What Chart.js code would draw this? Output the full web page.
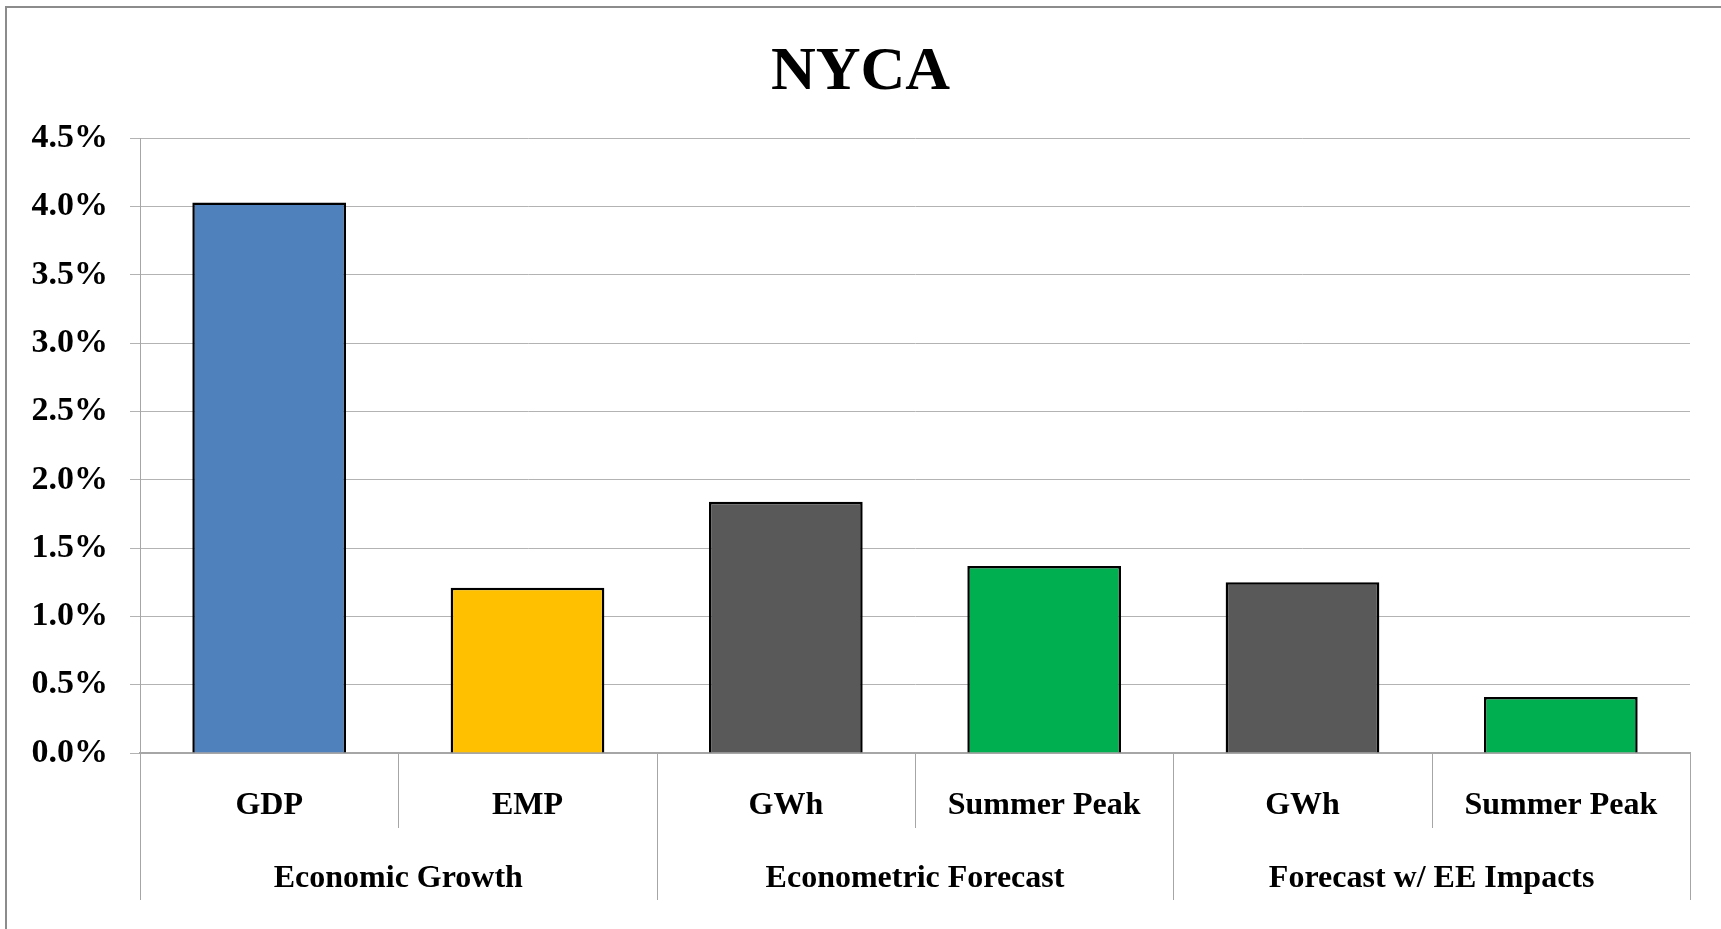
<!DOCTYPE html>
<html>
<head>
<meta charset="utf-8">
<script src="https://cdn.jsdelivr.net/npm/chart.js@4.4.1/dist/chart.umd.min.js"></script>
<style>
  html, body { margin: 0; padding: 0; background: #fff; overflow: hidden; }
  #frame { position: absolute; left: 5px; top: 6px; width: 1760px; height: 960px; border: 2px solid #8c8c8c; box-sizing: border-box; }
  #chart { position: absolute; left: 0; top: 0; }
</style>
</head>
<body>
<div id="frame"></div>
<canvas id="chart" width="1721" height="929"></canvas>
<script>
const groups = ['Economic Growth', 'Econometric Forecast', 'Forecast w/ EE Impacts'];
const categories = ['GDP', 'EMP', 'GWh', 'Summer Peak', 'GWh', 'Summer Peak'];
const groupOf = [0, 0, 1, 1, 2, 2];
const values = [4.03, 1.21, 1.84, 1.37, 1.25, 0.41];
const barColors = ['#4f81bd', '#ffc000', '#595959', '#00b050', '#595959', '#00b050'];

const serif = '"Liberation Serif", "Times New Roman", serif';

// draws the two rows of category labels under the axis, with the divider lines
const groupLabels = {
  id: 'groupLabels',
  afterDraw(chart) {
    const { ctx, chartArea, scales: { x } } = chart;
    const bottom = chartArea.bottom;
    const half = (x.getPixelForValue(1) - x.getPixelForValue(0)) / 2;
    ctx.save();
    ctx.strokeStyle = '#a6a6a6';
    ctx.lineWidth = 1;
    for (let i = 0; i <= categories.length; i++) {
      const px = i < categories.length ? x.getPixelForValue(i) - half : x.getPixelForValue(i - 1) + half;
      const groupEdge = i === 0 || i === categories.length || groupOf[i] !== groupOf[i - 1];
      ctx.beginPath();
      ctx.moveTo(Math.round(px) + 0.5, bottom);
      ctx.lineTo(Math.round(px) + 0.5, bottom + (groupEdge ? 147 : 75));
      ctx.stroke();
    }
    ctx.fillStyle = '#000';
    ctx.textAlign = 'center';
    ctx.textBaseline = 'middle';
    ctx.font = 'bold 32px ' + serif;
    categories.forEach((c, i) => ctx.fillText(c, x.getPixelForValue(i), bottom + 53));
    groups.forEach((g, gi) => {
      const idx = groupOf.map((v, i) => v === gi ? i : -1).filter(i => i >= 0);
      const cx = (x.getPixelForValue(idx[0]) + x.getPixelForValue(idx[idx.length - 1])) / 2;
      ctx.fillText(g, cx, bottom + 126);
    });
    ctx.restore();
  }
};

new Chart(document.getElementById('chart'), {
  type: 'bar',
  data: {
    labels: categories,
    datasets: [{
      data: values,
      backgroundColor: barColors,
      borderColor: '#000',
      borderWidth: 2.5,
      categoryPercentage: 1,
      barPercentage: 0.595
    }]
  },
  options: {
    responsive: false,
    animation: false,
    layout: { padding: { left: 31, right: 31, top: 0, bottom: 176 } },
    plugins: {
      legend: { display: false },
      tooltip: { enabled: false },
      title: {
        display: true,
        text: 'NYCA',
        color: '#000',
        font: { family: serif, size: 62, weight: 'bold', lineHeight: 1.2 },
        padding: { top: 36, bottom: 28 }
      }
    },
    scales: {
      x: {
        ticks: { display: false },
        grid: { display: false },
        border: { display: true, color: '#a6a6a6', width: 2 },
        afterFit: s => { s.height = 0; }
      },
      y: {
        min: 0,
        max: 4.5,
        ticks: {
          stepSize: 0.5,
          color: '#000',
          padding: 22,
          font: { family: serif, size: 34, weight: 'bold' },
          callback: v => v.toFixed(1) + '%'
        },
        grid: { color: '#b3b3b3', lineWidth: 1, tickLength: 10, drawTicks: true },
        border: { display: true, color: '#a6a6a6', width: 1 },
        afterFit: s => { s.width = 109; }
      }
    }
  },
  plugins: [groupLabels]
});
</script>
</body>
</html>
